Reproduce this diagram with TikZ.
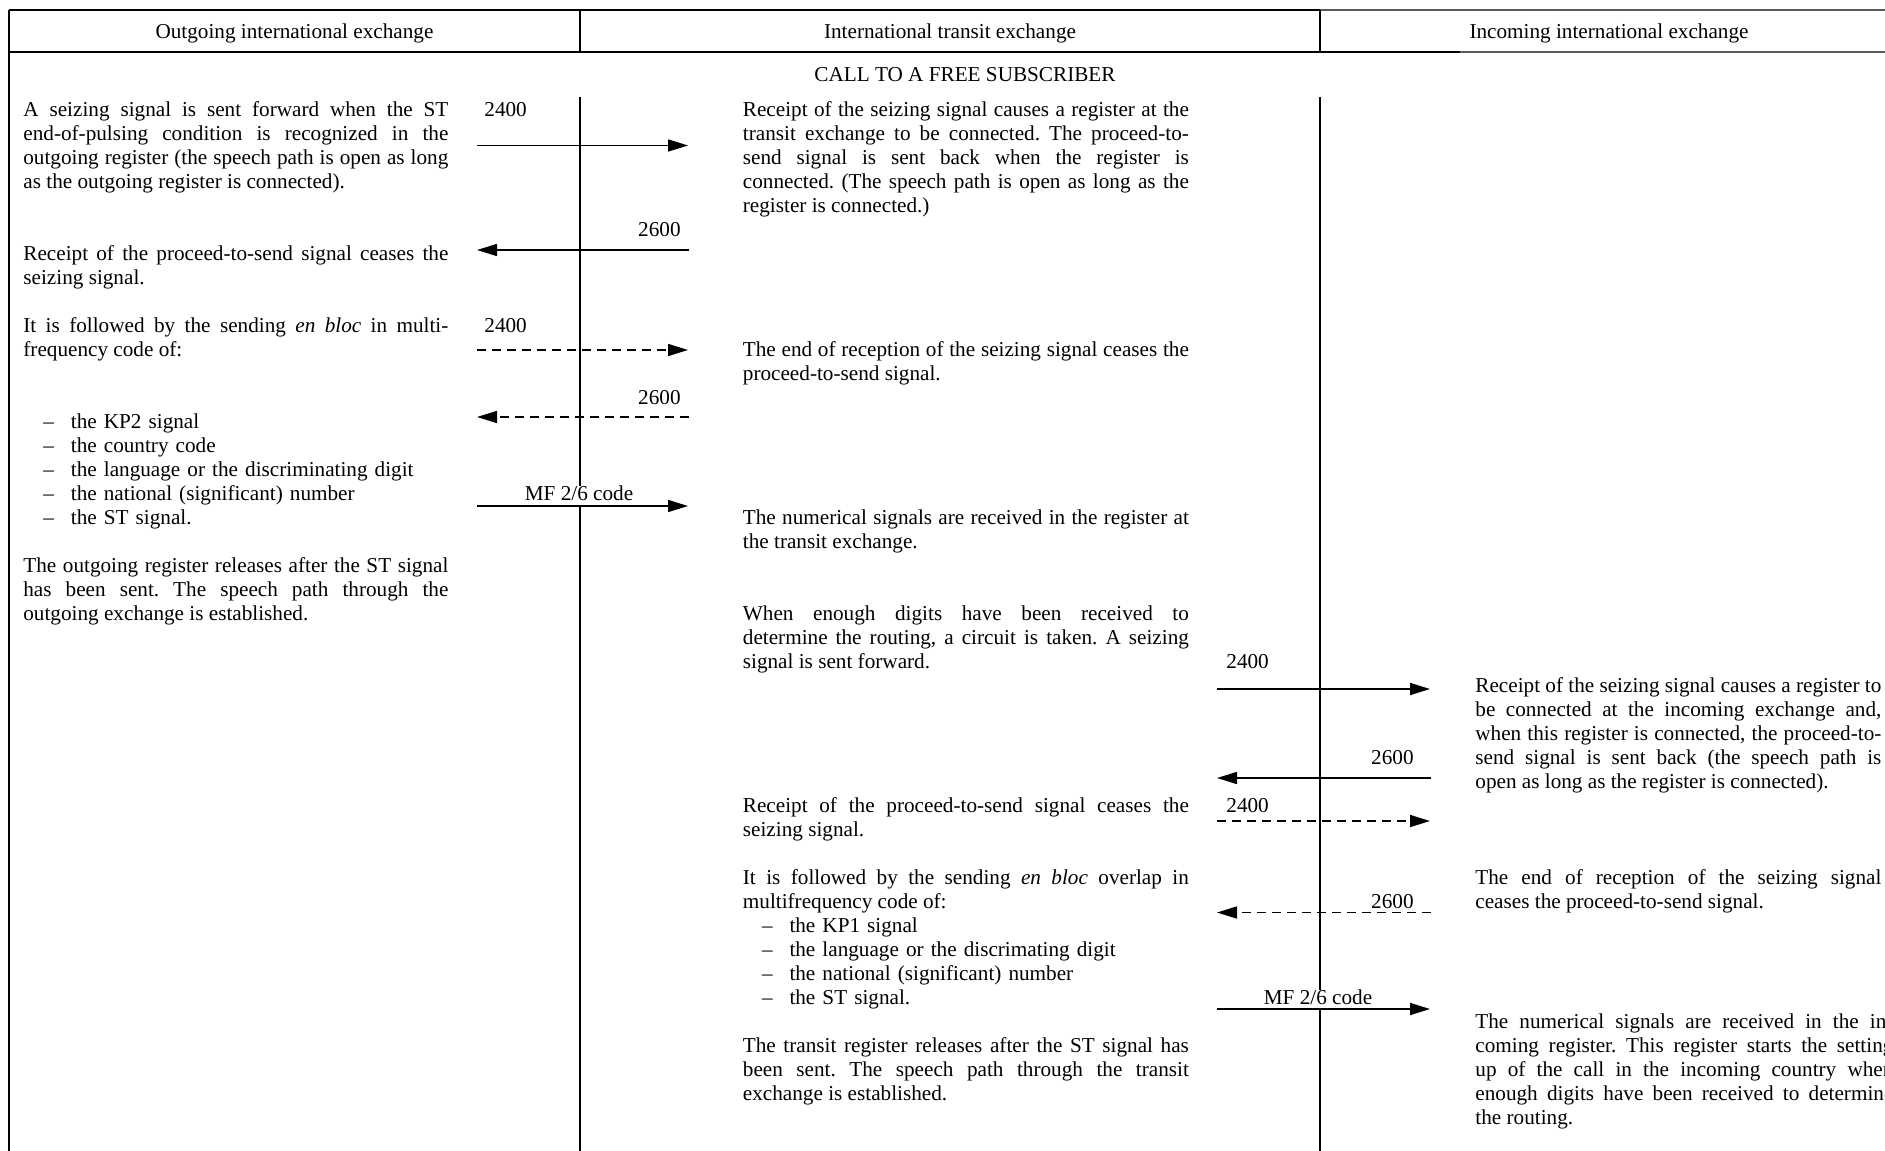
\documentclass[tikz,border=0pt]{standalone}
\usepackage{fontspec}
\setmainfont{Liberation Serif}
\usepackage{tikz}
\usetikzlibrary{arrows.meta,positioning}

\frenchspacing
\newcommand{\itemdash}{\makebox[13.75pt][l]{\textendash}}

\begin{document}
\begin{tikzpicture}[
    x=0.5pt, y=-0.5pt,
    frame/.style={line width=1pt},
    faint/.style={line width=0.8pt, draw=black!65},
    lane/.style={line width=0.8pt},
    head/.style={anchor=base, inner sep=0pt, font=\fontsize{10.6pt}{12pt}\selectfont},
    lbl/.style={inner sep=0pt, font=\fontsize{10.6pt}{12pt}\selectfont},
    mflbl/.style={lbl, anchor=base, fill=white, inner xsep=0pt, text depth=2.6pt},
    para/.style={anchor=north west, inner sep=0pt, align=justify, font=\fontsize{10.6pt}{12pt}\selectfont},
    lcol/.style={para, text width=212.5pt},
    mcol/.style={para, text width=223pt},
    rcol/.style={para, text width=203pt},
    items/.style={para, align=left, text width=200pt},
    sig/.style={-{Triangle[length=10pt,width=6pt]}, line width=0.8pt},
    sigdash/.style={sig, dash pattern=on 4.5pt off 3pt}
]
    \useasboundingbox (0,0) rectangle (1885,1151);

    % Table frame and header row
    \draw[frame] (9,10) -- (1320,10);
    \draw[faint] (1320,10) -- (1885,10);
    \draw[frame] (9,52) -- (1460,52);
    \draw[faint] (1460,52) -- (1885,52);
    \draw[frame] (9,10) -- (9,1151);
    \draw[frame] (580,10) -- (580,52);
    \draw[frame] (1320,10) -- (1320,52);
    \node[head] (hdrout) at (294.5,38.3) {Outgoing international exchange};
    \node[head] (hdrtrans) at (950,38.3) {International transit exchange};
    \node[head] (hdrinc) at (1609,38.3) {Incoming international exchange};
    \node[head] (title) at (965,81.7) {CALL TO A FREE SUBSCRIBER};

    % Exchange lines
    \draw[lane] (580,96.5) -- (580,1151);
    \draw[lane] (1320,96.5) -- (1320,1151);

    % Outgoing exchange column
    \node[lcol] (outseize) at (23,99.7) {\strut A seizing signal is sent forward when the ST\linebreak end-of-pulsing condition is recognized in the\linebreak outgoing register (the speech path is open as long\linebreak as the outgoing register is connected).};
    \node[lcol] (outcease) at (23,243.7) {\strut Receipt of the proceed-to-send signal ceases the\linebreak seizing signal.};
    \node[lcol] (outbloc) at (23,315.7) {\strut It is followed by the sending \textit{en bloc} in multi-\linebreak frequency code of:};
    \node[items] (outlist) at (43,411.7) {\strut\itemdash the KP2 signal\\
        \itemdash the country code\\
        \itemdash the language or the discriminating digit\\
        \itemdash the national (significant) number\\
        \itemdash the ST signal.};
    \node[lcol] (outrel) at (23,555.7) {\strut The outgoing register releases after the ST signal\linebreak has been sent. The speech path through the\linebreak outgoing exchange is established.};

    % Transit exchange column
    \node[mcol] (trseize) at (742.5,99.7) {\strut Receipt of the seizing signal causes a register at the\linebreak transit exchange to be connected. The proceed-to-\linebreak send signal is sent back when the register is\linebreak connected. (The speech path is open as long as the\linebreak register is connected.)};
    \node[mcol] (trend) at (742.5,339.7) {\strut The end of reception of the seizing signal ceases the\linebreak proceed-to-send signal.};
    \node[mcol] (trnum) at (742.5,507.7) {\strut The numerical signals are received in the register at\linebreak the transit exchange.};
    \node[mcol] (trroute) at (742.5,603.7) {\strut When enough digits have been received to\linebreak determine the routing, a circuit is taken. A seizing\linebreak signal is sent forward.};
    \node[mcol] (trcease) at (742.5,795.7) {\strut Receipt of the proceed-to-send signal ceases the\linebreak seizing signal.};
    \node[mcol] (trbloc) at (742.5,867.7) {\strut It is followed by the sending \textit{en bloc} overlap in\linebreak multifrequency code of:};
    \node[items] (trlist) at (761.6,915.7) {\strut\itemdash the KP1 signal\\
        \itemdash the language or the discrimating digit\\
        \itemdash the national (significant) number\\
        \itemdash the ST signal.};
    \node[mcol] (trrel) at (742.5,1035.7) {\strut The transit register releases after the ST signal has\linebreak been sent. The speech path through the transit\linebreak exchange is established.};

    % Incoming exchange column
    \node[rcol] (inseize) at (1475,675.7) {\strut Receipt of the seizing signal causes a register to\linebreak be connected at the incoming exchange and,\linebreak when this register is connected, the proceed-to-\linebreak send signal is sent back (the speech path is\linebreak open as long as the register is connected).};
    \node[rcol] (inend) at (1475,867.7) {\strut The end of reception of the seizing signal\linebreak ceases the proceed-to-send signal.};
    \node[rcol, text width=209pt] (innum) at (1475,1011.7) {\strut The numerical signals are received in the in-\linebreak coming register. This register starts the setting\linebreak up of the call in the incoming country when\linebreak enough digits have been received to determine\linebreak the routing.};

    % Signals outgoing <-> transit
    \coordinate (s1a) at (477,145.5);  \coordinate (s1b) at (688,145.5);
    \coordinate (s2a) at (477,250);    \coordinate (s2b) at (689,250);
    \coordinate (s3a) at (477,350);    \coordinate (s3b) at (688,350);
    \coordinate (s4a) at (477,417);    \coordinate (s4b) at (689,417);
    \coordinate (s5a) at (477,506);    \coordinate (s5b) at (688,506);
    \node[lbl, anchor=base west] (f1) at (484,116.5) {2400};
    \node[lbl, anchor=base east] (f2) at (681,236.5) {2600};
    \node[lbl, anchor=base west] (f3) at (484,332.5) {2400};
    \node[lbl, anchor=base east] (f4) at (681,404.5) {2600};
    \node[mflbl] (mf1) at (579,500.5) {MF 2/6 code};
    \draw[sig] (s1a) -- (s1b);
    \draw[sig] (s2b) -- (s2a);
    \draw[sigdash] (s3a) -- (s3b);
    \draw[sigdash] (s4b) -- (s4a);
    \draw[sig] (s5a) -- (s5b);

    % Signals transit <-> incoming
    \coordinate (s6a) at (1217,689);   \coordinate (s6b) at (1430,689);
    \coordinate (s7a) at (1217,778);   \coordinate (s7b) at (1431,778);
    \coordinate (s8a) at (1217,821);   \coordinate (s8b) at (1430,821);
    \coordinate (s9a) at (1217,912.5); \coordinate (s9b) at (1431,912.5);
    \coordinate (s10a) at (1217,1009); \coordinate (s10b) at (1430,1009);
    \node[lbl, anchor=base west] (f6) at (1226,668.5) {2400};
    \node[lbl, anchor=base east] (f7) at (1414,764.5) {2600};
    \node[lbl, anchor=base west] (f8) at (1226,812.5) {2400};
    \node[lbl, anchor=base east] (f9) at (1414,908.5) {2600};
    \node[mflbl] (mf2) at (1318,1004.5) {MF 2/6 code};
    \draw[sig] (s6a) -- (s6b);
    \draw[sig] (s7b) -- (s7a);
    \draw[sigdash] (s8a) -- (s8b);
    \draw[sigdash] (s9b) -- (s9a);
    \draw[sig] (s10a) -- (s10b);
\end{tikzpicture}
\end{document}
